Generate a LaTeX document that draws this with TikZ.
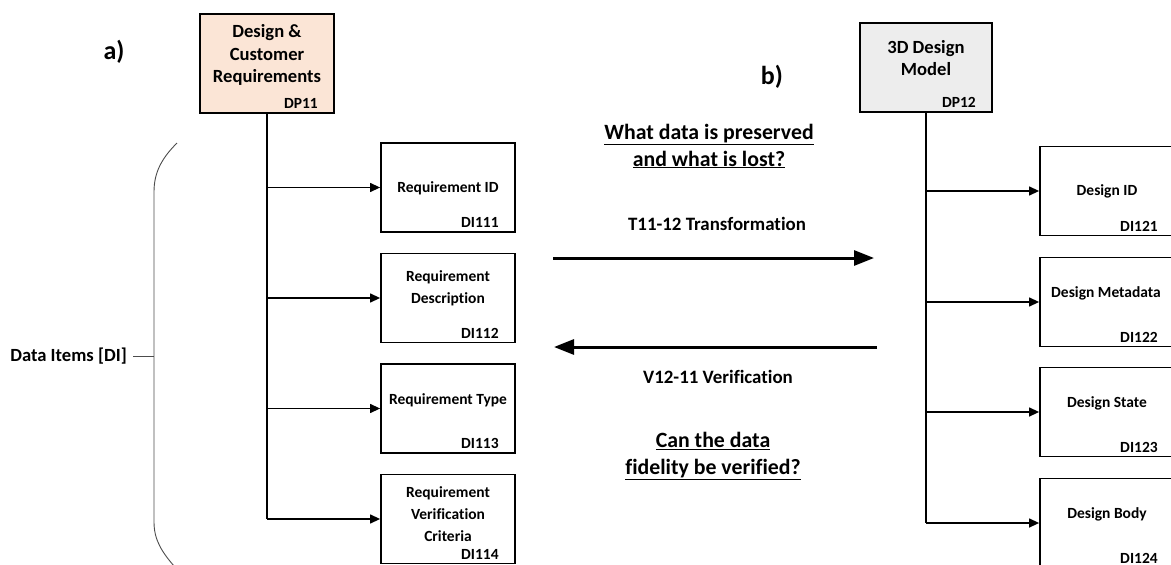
\documentclass[tikz,border=0pt]{standalone}
\usepackage{fontspec}
\setmainfont{Carlito}[Ligatures={NoCommon}]
\usetikzlibrary{arrows.meta}

\begin{document}
\begin{tikzpicture}[x=1pt,y=-1pt,
  font=\bfseries,
  parent/.style={draw=black,line width=2pt,minimum width=134pt,minimum height=100pt,inner sep=0pt},
  item/.style={draw=black,line width=1.8pt,fill=white,minimum width=134pt,minimum height=89pt,inner sep=0pt},
  itemtext/.style={align=center,font=\fontsize{15.5}{22}\selectfont\bfseries,inner sep=0pt},
  idtag/.style={font=\fontsize{15.5}{18}\selectfont\bfseries,inner sep=0pt,anchor=south east},
  branch/.style={line width=1.3pt,-{Triangle[length=10pt,width=9pt]}},
  trunk/.style={line width=1.3pt},
  bigarrow/.style={line width=3pt,-{Triangle[length=20pt,width=15pt]}},
  question/.style={align=center,font=\fontsize{21.8}{27}\selectfont\bfseries,inner sep=0pt},
  arrowlabel/.style={font=\fontsize{18.9}{22}\selectfont\bfseries,inner sep=0pt},
  boxtitle/.style={align=center,font=\fontsize{18.6}{22.5}\selectfont\bfseries,inner sep=0pt},
]
\useasboundingbox (0,0) rectangle (1171,565);
\clip (0,0) rectangle (1171,565);

% panel labels
\node[font=\fontsize{26}{30}\selectfont\bfseries] (pa) at (114,52) {a)};
\node[font=\fontsize{26}{30}\selectfont\bfseries] (pb) at (772,77) {b)};

% ---- a) requirements side ----
\node[parent,fill={rgb,255:red,251;green,229;blue,214},minimum width=134pt,minimum height=99pt] (dp11) at (267,63.5) {};
\node[boxtitle] (dp11t) at (267,55) {Design \&\\Customer\\Requirements};
\node[idtag] (dp11id) at ([xshift=-17pt,yshift=5pt]dp11.south east) {DP11};

\node[item] (r1) at (448,187.5) {};
\node[item] (r2) at (448,298) {};
\node[item] (r3) at (448,408.5) {};
\node[item] (r4) at (448,519) {};

\node[itemtext] (r1t) at (448,188) {Requirement ID};
\node[itemtext] (r2t) at (448,288) {Requirement\\Description};
\node[itemtext] (r3t) at (448,400) {Requirement Type};
\node[itemtext] (r4t) at (448,514) {Requirement\\Verification\\Criteria};

\node[idtag] (r1id) at ([xshift=-17pt,yshift=5pt]r1.south east) {DI111};
\node[idtag] (r2id) at ([xshift=-17pt,yshift=5pt]r2.south east) {DI112};
\node[idtag] (r3id) at ([xshift=-17pt,yshift=5pt]r3.south east) {DI113};
\node[idtag] (r4id) at ([xshift=-17pt,yshift=5pt]r4.south east) {DI114};

\draw[trunk] (dp11.south) -- (dp11.south |- r4.west);
\foreach \n in {r1,r2,r3,r4}
  \draw[branch] (dp11.south |- \n.west) -- (\n.west);

% brace gathering the data items
\node[font=\fontsize{18.6}{22}\selectfont\bfseries,anchor=east,inner sep=0pt] (dil) at (127,356) {Data Items [DI]};
\coordinate (btip) at (154,356);
\draw[line width=0.9pt,black!70] ([xshift=6pt]dil.east) -- (btip);
\draw[line width=0.9pt,black!70] (177,143) .. controls (162,158) and (154,172) .. (154,192)
  -- (154,522) .. controls (154,540) and (162,552) .. (174,566);

% ---- b) design model side ----
\node[parent,fill={rgb,255:red,237;green,237;blue,237},minimum width=132pt,minimum height=89pt] (dp12) at (926,67.5) {};
\node[boxtitle] (dp12t) at (926,58) {3D Design\\Model};
\node[idtag] (dp12id) at ([xshift=-17pt,yshift=5pt]dp12.south east) {DP12};

\node[item] (d1) at (1107,191) {};
\node[item] (d2) at (1107,302) {};
\node[item] (d3) at (1107,412) {};
\node[item] (d4) at (1107,523) {};

\node[itemtext] (d1t) at (1107,191) {Design ID};
\node[itemtext] (d2t) at (1106,293) {Design Metadata};
\node[itemtext] (d3t) at (1107,403) {Design State};
\node[itemtext] (d4t) at (1107,514) {Design Body};

\node[idtag] (d1id) at ([xshift=-17pt,yshift=5pt]d1.south east) {DI121};
\node[idtag] (d2id) at ([xshift=-17pt,yshift=5pt]d2.south east) {DI122};
\node[idtag] (d3id) at ([xshift=-17pt,yshift=5pt]d3.south east) {DI123};
\node[idtag] (d4id) at ([xshift=-17pt,yshift=5pt]d4.south east) {DI124};

\draw[trunk] (dp12.south) -- (dp12.south |- d4.west);
\foreach \n in {d1,d2,d3,d4}
  \draw[branch] (dp12.south |- \n.west) -- (\n.west);

% ---- transformation / verification between the two ----
\node[question] (q1) at (709,146) {\underline{What data is preserved}\\\underline{and what is lost?}};
\node[arrowlabel] (tl) at (717,224) {T11-12 Transformation};
\coordinate (ta) at (553,258);
\coordinate (tb) at (874,258);
\draw[bigarrow] (ta) -- (tb);
\coordinate (va) at (877,347);
\coordinate (vb) at (554,347);
\draw[bigarrow] (va) -- (vb);
\node[arrowlabel] (vl) at (718,377) {V12-11 Verification};
\node[question] (q2) at (713,456) {\underline{Can the data}\\\underline{fidelity be verified?}};
\end{tikzpicture}
\end{document}
